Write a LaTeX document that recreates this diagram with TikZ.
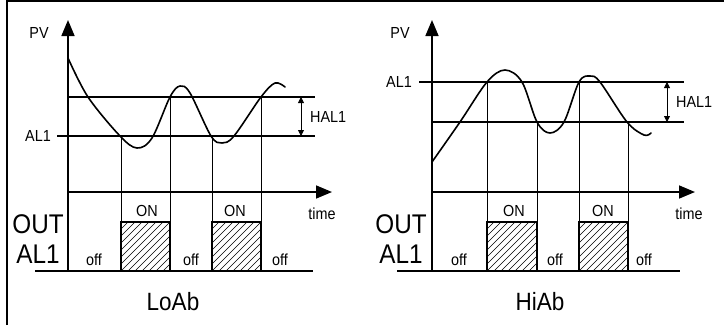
\documentclass[tikz,border=0pt]{standalone}
\usepackage{fontspec}
\setmainfont{Liberation Sans}
\newfontfamily\condfont{Liberation Sans}[FakeStretch=0.9]
\usetikzlibrary{arrows.meta}
\newcommand{\myhatchbox}[2]{%
  \begin{scope}
    \clip (#1,222) rectangle (#2,271);
    \foreach \i in {-56,-49,...,56} \draw[hatchline] ({#1+\i},271) -- ({#1+\i+49},222);
  \end{scope}
  \draw[boxline] (#1,271) -- (#1,222) -- (#2,222) -- (#2,271);
}
\begin{document}
\begin{tikzpicture}[x=1pt,y=-1pt,
  thickline/.style={line width=1.6pt},
  thinline/.style={line width=0.7pt},
  boxline/.style={line width=1.4pt},
  hatchline/.style={line width=0.45pt},
  curveline/.style={line width=1.6pt,line join=round,line cap=round},
  axisarrow/.style={line width=1.6pt,-{Triangle[length=16pt,width=13pt]}},
  halarrow/.style={line width=0.8pt,{Triangle[length=6pt,width=6pt]}-{Triangle[length=6pt,width=6pt]}},
  lbl/.style={font=\condfont\fontsize{16}{16}\selectfont, inner sep=0pt, anchor=base},
  biglbl/.style={font=\condfont\fontsize{27}{27}\selectfont, inner sep=0pt, anchor=base},
  namelbl/.style={font=\condfont\fontsize{25}{25}\selectfont, inner sep=0pt, anchor=base},
  ]
\useasboundingbox (0,0) rectangle (724,325);
% frame
\draw[line width=1.5pt] (7,325) -- (7,1) -- (724,1);

% ===================== LEFT (LoAb) =====================
\coordinate (LaxB) at (68,271);
\coordinate (LaxT) at (68,20);
\coordinate (LtS) at (68,192);
\coordinate (LtE) at (332,192);
\draw[axisarrow] (LaxB) -- (LaxT);
\draw[axisarrow] (LtS) -- (LtE);
\coordinate (LbS) at (35,271);
\coordinate (LbE) at (313,271);
\draw[thickline] (LbS) -- (LbE);
% thresholds
\coordinate (LuS) at (68,97);  \coordinate (LuE) at (315,97);
\coordinate (LaS) at (57,136); \coordinate (LaE) at (315,136);
\draw[thickline] (LuS) -- (LuE);
\draw[thickline] (LaS) -- (LaE);
\coordinate (LhT) at (301,97); \coordinate (LhB) at (301,136);
\draw[halarrow] (LhT) -- (LhB);
% curve
\draw[curveline] plot[smooth,tension=0.55] coordinates
 {(68,58) (88,97) (120,136) (137,148) (152,138) (170,97) (180,86) (190,93) (211,136) (222,143) (234,136) (261,97) (275,83) (285,87)};
% verticals
\draw[thinline] (121,136) -- (121,271);
\draw[thinline] (170,97) -- (170,271);
\draw[thinline] (212,136) -- (212,271);
\draw[thinline] (261,97) -- (261,271);
\myhatchbox{121}{170}
\myhatchbox{212}{261}
% labels
\node[lbl] (Lpv) at (39,38) {PV};
\node[lbl] (Lal) at (38,141) {AL1};
\node[lbl,anchor=base west] (Lhal) at (310,122) {HAL1};
\node[lbl] (Ltime) at (322,219) {time};
\node[biglbl] (Lout) at (38,233) {OUT};
\node[biglbl] (Lal1) at (38,263) {AL1};
\node[lbl] (Lon1) at (147,216) {ON};
\node[lbl] (Lon2) at (235,216) {ON};
\node[lbl] (Loff1) at (94,265) {off};
\node[lbl] (Loff2) at (191,265) {off};
\node[lbl] (Loff3) at (280,265) {off};
\node[namelbl] (Lname) at (173,310) {LoAb};

% ===================== RIGHT (HiAb) =====================
\coordinate (RaxB) at (432,271);
\coordinate (RaxT) at (432,20);
\coordinate (RtS) at (432,192);
\coordinate (RtE) at (695,192);
\draw[axisarrow] (RaxB) -- (RaxT);
\draw[axisarrow] (RtS) -- (RtE);
\coordinate (RbS) at (397,271);
\coordinate (RbE) at (680,271);
\draw[thickline] (RbS) -- (RbE);
\coordinate (RaS) at (419,82);  \coordinate (RaE) at (684,82);
\coordinate (RlS) at (432,122); \coordinate (RlE) at (684,122);
\draw[thickline] (RaS) -- (RaE);
\draw[thickline] (RlS) -- (RlE);
\coordinate (RhT) at (667,82); \coordinate (RhB) at (667,122);
\draw[halarrow] (RhT) -- (RhB);
\draw[curveline] plot[smooth,tension=0.55] coordinates
 {(432,162) (460,122) (487,82) (505,70) (522,82) (537,122) (550,133) (564,122) (579,82) (590,76) (600,82) (627,122) (644,135) (651,133)};
\draw[thinline] (487,82) -- (487,271);
\draw[thinline] (537,122) -- (537,271);
\draw[thinline] (579,82) -- (579,271);
\draw[thinline] (628,122) -- (628,271);
\myhatchbox{487}{537}
\myhatchbox{579}{628}
\node[lbl] (Rpv) at (400,38) {PV};
\node[lbl] (Ral) at (399,87) {AL1};
\node[lbl,anchor=base west] (Rhal) at (676,107) {HAL1};
\node[lbl] (Rtime) at (689,219) {time};
\node[biglbl] (Rout) at (401,233) {OUT};
\node[biglbl] (Ral1) at (401,263) {AL1};
\node[lbl] (Ron1) at (514,216) {ON};
\node[lbl] (Ron2) at (603,216) {ON};
\node[lbl] (Roff1) at (459,265) {off};
\node[lbl] (Roff2) at (555,265) {off};
\node[lbl] (Roff3) at (644,265) {off};
\node[namelbl] (Rname) at (540,310) {HiAb};
\end{tikzpicture}
\end{document}
